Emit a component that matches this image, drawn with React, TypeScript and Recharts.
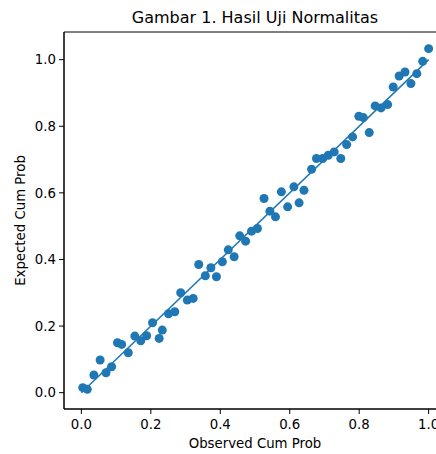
import React from 'react';
import {
  ScatterChart,
  Scatter,
  XAxis,
  YAxis,
  ReferenceLine,
  ReferenceArea,
  Label,
} from 'recharts';

// observed cumulative probability (x) and expected cumulative probability (y)
const observed = [
  0.004, 0.017, 0.036, 0.054, 0.071, 0.087, 0.104, 0.116, 0.135, 0.154,
  0.171, 0.188, 0.205, 0.224, 0.233, 0.251, 0.269, 0.286, 0.305, 0.322,
  0.338, 0.357, 0.373, 0.389, 0.406, 0.423, 0.44, 0.456, 0.473, 0.49,
  0.507, 0.526, 0.543, 0.559, 0.576, 0.594, 0.612, 0.627, 0.641, 0.663,
  0.677, 0.695, 0.711, 0.728, 0.747, 0.764, 0.781, 0.799, 0.812, 0.829,
  0.846, 0.863, 0.882, 0.898, 0.915, 0.932, 0.949, 0.966, 0.983, 1.0,
];
const expected = [
  0.015, 0.01, 0.053, 0.098, 0.06, 0.078, 0.15, 0.145, 0.12, 0.17,
  0.156, 0.171, 0.21, 0.163, 0.188, 0.237, 0.243, 0.3, 0.278, 0.283,
  0.385, 0.351, 0.375, 0.348, 0.393, 0.429, 0.408, 0.471, 0.455, 0.485,
  0.493, 0.583, 0.545, 0.528, 0.603, 0.558, 0.618, 0.57, 0.608, 0.671,
  0.703, 0.703, 0.713, 0.723, 0.703, 0.745, 0.768, 0.83, 0.826, 0.781,
  0.861, 0.855, 0.865, 0.918, 0.951, 0.963, 0.928, 0.958, 0.995, 1.033,
];
const ticks = [0, 0.2, 0.4, 0.6, 0.8, 1.0];
const xDomain: [number, number] = [-0.05, 1.05];
const yDomain: [number, number] = [-0.049, 1.083];

const points = observed.map((x, i) => ({ x, y: expected[i] }));

const FONT = '"DejaVu Sans", sans-serif';
const BLUE = '#1f77b4';

const Dot = (props: any) => (
  <circle cx={props.cx} cy={props.cy} r={4.5} fill={BLUE} />
);

const YLabel = ({ viewBox }: any) => {
  const x = viewBox.x + 20;
  const y = viewBox.y + viewBox.height / 2;
  return (
    <text
      x={x}
      y={y}
      transform={`rotate(-90, ${x}, ${y})`}
      textAnchor="middle"
      dominantBaseline="central"
      fontFamily={FONT}
      fontSize={13.3}
      fill="#000"
    >
      Expected Cum Prob
    </text>
  );
};

export default function App() {
  const tickStyle = { fill: '#000', fontSize: 13.3, fontFamily: FONT };
  const text = { fontFamily: FONT, color: '#000', whiteSpace: 'nowrap' as const };
  return (
    <div
      style={{
        position: 'fixed',
        top: 0,
        left: 0,
        width: 436,
        height: 454,
        overflow: 'hidden',
        background: '#fff',
      }}
    >
      <div
        style={{
          ...text,
          position: 'absolute',
          top: 10,
          left: 64,
          width: 382,
          textAlign: 'center',
          fontSize: 16,
          lineHeight: '16px',
        }}
      >
        Gambar 1. Hasil Uji Normalitas
      </div>
      <ScatterChart
        width={460}
        height={454}
        margin={{ top: 32, right: 14, bottom: 0, left: 0 }}
      >
        <XAxis
          type="number"
          dataKey="x"
          domain={xDomain}
          allowDataOverflow
          ticks={ticks}
          tickFormatter={(v: number) => v.toFixed(1)}
          height={45}
          tickSize={5}
          tickMargin={6}
          axisLine={{ stroke: '#000' }}
          tickLine={{ stroke: '#000' }}
          tick={tickStyle}
        />
        <YAxis
          type="number"
          dataKey="y"
          domain={yDomain}
          allowDataOverflow
          ticks={ticks}
          tickFormatter={(v: number) => v.toFixed(1)}
          width={64}
          tickSize={5}
          tickMargin={3}
          axisLine={{ stroke: '#000' }}
          tickLine={{ stroke: '#000' }}
          tick={tickStyle}
        >
          <Label content={<YLabel />} />
        </YAxis>
        <ReferenceArea
          x1={xDomain[0]}
          x2={xDomain[1]}
          y1={yDomain[0]}
          y2={yDomain[1]}
          fill="none"
          stroke="#000"
          strokeWidth={1}
          ifOverflow="visible"
        />
        <Scatter data={points} shape={<Dot />} isAnimationActive={false} />
        <ReferenceLine
          segment={[
            { x: 0, y: 0 },
            { x: 1, y: 1 },
          ]}
          stroke={BLUE}
          strokeWidth={1.5}
          ifOverflow="visible"
        />
      </ScatterChart>
      <div
        style={{
          ...text,
          position: 'absolute',
          top: 437,
          left: 64,
          width: 382,
          textAlign: 'center',
          fontSize: 13.3,
          lineHeight: '14px',
        }}
      >
        Observed Cum Prob
      </div>
    </div>
  );
}
